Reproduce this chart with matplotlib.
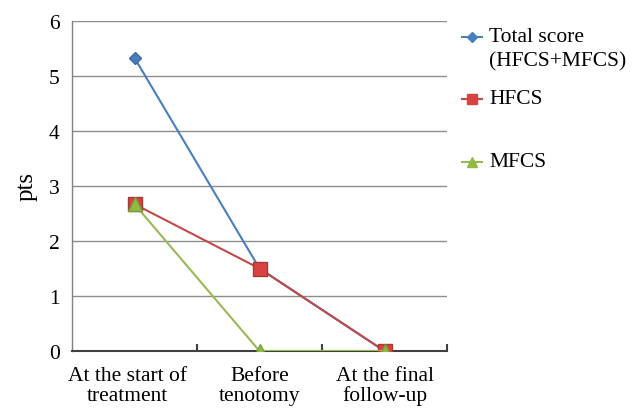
import matplotlib
matplotlib.use("Agg")
import matplotlib.pyplot as plt
import matplotlib.transforms as mtransforms
from matplotlib.lines import Line2D

categories = ["At the start of\ntreatment", "Before\ntenotomy", "At the final\nfollow-up"]
total_score = [5.33, 1.5, 0.0]
hfcs = [2.67, 1.5, 0.0]
mfcs = [2.67, 0.0, 0.0]
series_labels = ["Total score", "HFCS", "MFCS"]

plt.rcParams['font.family'] = ['Liberation Serif', 'DejaVu Serif']

blue = "#4a7ebb"
red = "#be4b48"
green = "#98b954"

fig = plt.figure(figsize=(6.36, 4.10), dpi=100)
ax = fig.add_axes([72/636, 58/410, 375/636, 330/410])

x = list(range(len(categories)))
ax.plot(x, total_score, color=blue, lw=1.5, marker="D", ms=6.5, mfc=blue, mec="#3a6aa5", zorder=3)
ax.plot(x, hfcs, color=red, lw=1.5, marker="s", ms=9.5, mfc="#d9423f", mec="#a33a37", zorder=4)
ax.plot(x, mfcs, color=green, lw=1.5, marker="^", ms=9.5, mfc="#8fba45", mec="#7a9e3c", zorder=5)

ax.set_xlim(-0.5, 2.5)
ax.set_ylim(0, 6)
ax.set_yticks(range(0, 7))
ax.yaxis.grid(True, color="#8c8c8c", lw=1.0)
ax.set_axisbelow(True)
for s in ["top", "right"]:
    ax.spines[s].set_visible(False)
ax.spines["left"].set_color("#808080")
ax.spines["left"].set_linewidth(1.0)
ax.spines["bottom"].set_color("#404040")
ax.spines["bottom"].set_linewidth(1.5)

ax.set_xticks(x)
ax.set_xticklabels(categories, fontsize=15.5, linespacing=1.02)
ax.tick_params(axis="x", which="major", length=0, pad=11)
ax.set_xticks([0.5, 1.5, 2.5], minor=True)
ax.tick_params(axis="x", which="minor", direction="in", length=5, width=1.5, color="#404040")
ax.tick_params(axis="y", length=0, labelsize=15.5, pad=9)
ax.set_ylabel("pts", fontsize=18, labelpad=8)

# first category label sits slightly left of its category in the reference
lbl0 = ax.get_xticklabels()[0]
lbl0.set_transform(lbl0.get_transform() + mtransforms.ScaledTranslation(-7/100, 0, fig.dpi_scale_trans))

# legend (manual placement)
handles_y = [38/410, 100/410, 163/410]
styles = [(blue, "D", 5, blue), (red, "s", 7, "#d9423f"), (green, "^", 7, "#8fba45")]
for (c, m, ms, mf), hy in zip(styles, handles_y):
    fig.add_artist(Line2D([462/636, 482/636], [1 - hy, 1 - hy], color=c, lw=1.5,
                          transform=fig.transFigure))
    fig.add_artist(Line2D([472/636], [1 - hy], color=c, marker=m, ms=ms, mfc=mf, mec=mf,
                          transform=fig.transFigure))

fig.text(489/636, 1 - 38/410, series_labels[0], fontsize=15.5, va="center", ha="left")
fig.text(489/636, 1 - 62/410, "(HFCS+MFCS)", fontsize=15.5, va="center", ha="left")
fig.text(489/636, 1 - 100/410, series_labels[1], fontsize=15.5, va="center", ha="left")
fig.text(489/636, 1 - 163/410, series_labels[2], fontsize=15.5, va="center", ha="left")

fig.savefig("out.png", dpi=100)
